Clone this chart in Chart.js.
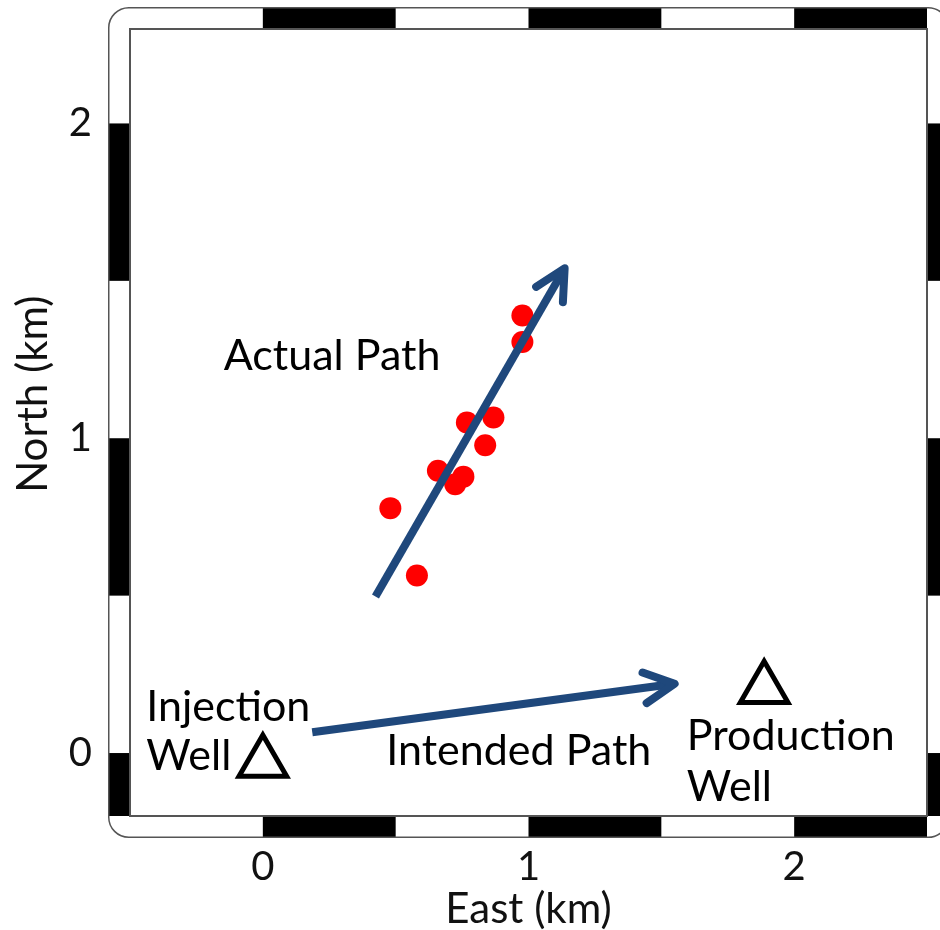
<!DOCTYPE html>
<html>
<head>
<meta charset="utf-8">
<script src="https://cdn.jsdelivr.net/npm/chart.js@4.4.1/dist/chart.umd.min.js"></script>
<style>
html,body{margin:0;padding:0;background:#fff;}
#c{display:block;}
</style>
</head>
<body>
<canvas id="c" width="940" height="930"></canvas>
<script>
// ---- data (km) ----
const eventEast  = [0.977, 0.977, 0.768, 0.868, 0.837, 0.659, 0.755, 0.724, 0.480, 0.580];
const eventNorth = [1.390, 1.306, 1.050, 1.066, 0.978, 0.897, 0.878, 0.854, 0.778, 0.564];
const actualPathEast  = [0.424, 1.136];
const actualPathNorth = [0.497, 1.540];
const intendedPathEast  = [0.186, 1.550];
const intendedPathNorth = [0.066, 0.220];
const wellEast  = [0.000, 1.887];
const wellNorth = [-0.030, 0.204];
const xTicks = [0, 1, 2];
const yTicks = [0, 1, 2];
const xRange = [-0.5, 2.5];
const yRange = [-0.2, 2.3];
const labelTexts = ['Actual Path', 'Injection', 'Well', 'Intended Path', 'Production', 'Well'];
const labelEast  = [-0.147, -0.439, -0.439, 0.465, 1.596, 1.596];
const labelNorth = [1.218, 0.102, -0.053, -0.037, 0.010, -0.151];
const xTitle = 'East (km)';
const yTitle = 'North (km)';

const pts = (xs, ys) => xs.map((v, i) => ({x: v, y: ys[i]}));
const ARROW = '#1F487C';
const FONT = 'Lato';

const framePlugin = {
  id: 'frame',
  afterDraw(chart) {
    const {ctx, chartArea: a, scales: {x, y}} = chart;
    const bw = 22, step = 0.5, r = 20;
    const L = a.left - bw, T = a.top - bw, R = a.right + bw, B = a.bottom + bw;
    ctx.save();
    ctx.beginPath();
    ctx.roundRect(L, T, R - L, B - T, r);
    ctx.rect(a.left, a.top, a.right - a.left, a.bottom - a.top);
    ctx.fillStyle = '#fff';
    ctx.fill('evenodd');
    ctx.fillStyle = '#000';
    for (let k = Math.floor(x.min / step); k < Math.ceil(x.max / step); k++) {
      if (Math.abs(k % 2) !== 0) continue;
      const x0 = x.getPixelForValue(Math.max(k * step, x.min));
      const x1 = x.getPixelForValue(Math.min((k + 1) * step, x.max));
      ctx.fillRect(x0, T, x1 - x0, bw);
      ctx.fillRect(x0, a.bottom, x1 - x0, bw);
    }
    for (let k = Math.floor(y.min / step); k < Math.ceil(y.max / step); k++) {
      if (Math.abs(k % 2) !== 1) continue;
      const y0 = y.getPixelForValue(Math.min((k + 1) * step, y.max));
      const y1 = y.getPixelForValue(Math.max(k * step, y.min));
      ctx.fillRect(L, y0, bw, y1 - y0);
      ctx.fillRect(a.right, y0, bw, y1 - y0);
    }
    ctx.beginPath();
    ctx.roundRect(L + 0.75, T + 0.75, R - L - 1.5, B - T - 1.5, r);
    ctx.strokeStyle = '#555';
    ctx.lineWidth = 1.5;
    ctx.stroke();
    ctx.strokeStyle = '#555';
    ctx.lineWidth = 2;
    ctx.strokeRect(a.left, a.top, a.right - a.left, a.bottom - a.top);
    // y axis title
    ctx.save();
    ctx.translate(33, y.getPixelForValue(1.14));
    ctx.rotate(-Math.PI / 2);
    ctx.font = '42px ' + FONT;
    ctx.fillStyle = '#111';
    ctx.textAlign = 'center';
    ctx.textBaseline = 'middle';
    ctx.fillText(yTitle, 0, 0);
    ctx.restore();
    ctx.restore();
  }
};

const arrowPlugin = {
  id: 'arrowHeads',
  afterDatasetsDraw(chart) {
    const ctx = chart.ctx;
    chart.data.datasets.forEach((ds, i) => {
      if (!ds.arrowHead) return;
      const d = chart.getDatasetMeta(i).data;
      const p1 = d[d.length - 2], p2 = d[d.length - 1];
      const ang = Math.atan2(p2.y - p1.y, p2.x - p1.x);
      const len = 34, h = 27 * Math.PI / 180;
      ctx.save();
      ctx.beginPath();
      ctx.moveTo(p2.x - len * Math.cos(ang - h), p2.y - len * Math.sin(ang - h));
      ctx.lineTo(p2.x, p2.y);
      ctx.lineTo(p2.x - len * Math.cos(ang + h), p2.y - len * Math.sin(ang + h));
      ctx.strokeStyle = ds.borderColor;
      ctx.lineWidth = ds.borderWidth;
      ctx.lineCap = 'round';
      ctx.lineJoin = 'round';
      ctx.stroke();
      ctx.restore();
    });
  }
};

const labelPlugin = {
  id: 'textLabels',
  afterDatasetsDraw(chart) {
    const {ctx, scales: {x, y}} = chart;
    ctx.save();
    ctx.font = '43px ' + FONT;
    ctx.fillStyle = '#000';
    ctx.textAlign = 'left';
    ctx.textBaseline = 'alphabetic';
    labelTexts.forEach((t, i) => {
      ctx.fillText(t, x.getPixelForValue(labelEast[i]), y.getPixelForValue(labelNorth[i]));
    });
    ctx.restore();
  }
};

new Chart(document.getElementById('c'), {
  type: 'scatter',
  data: {
    datasets: [
      {
        label: 'Actual Path', type: 'line', data: pts(actualPathEast, actualPathNorth),
        borderColor: ARROW, borderWidth: 8, pointRadius: 0, borderCapStyle: 'butt',
        fill: false, showLine: true, arrowHead: true, order: 0
      },
      {
        label: 'Intended Path', type: 'line', data: pts(intendedPathEast, intendedPathNorth),
        borderColor: ARROW, borderWidth: 8, pointRadius: 0, borderCapStyle: 'butt',
        fill: false, showLine: true, arrowHead: true, order: 0
      },
      {
        label: 'Events', data: pts(eventEast, eventNorth),
        backgroundColor: '#FF0000', borderWidth: 0, pointRadius: 11, order: 1
      },
      {
        label: 'Wells', data: pts(wellEast, wellNorth),
        pointStyle: 'triangle', pointRadius: 27.5, borderWidth: 5,
        borderColor: '#000', backgroundColor: 'rgba(255,255,255,0)', order: 2
      }
    ]
  },
  options: {
    responsive: false,
    animation: false,
    events: [],
    layout: {autoPadding: false, padding: {left: 0, top: 29, right: 13, bottom: 0}},
    plugins: {legend: {display: false}, tooltip: {enabled: false}},
    scales: {
      x: {
        type: 'linear', min: xRange[0], max: xRange[1],
        grid: {display: false, drawTicks: false}, border: {display: false},
        ticks: {font: {family: FONT, size: 40}, color: '#111', padding: 27, maxRotation: 0, autoSkip: false,
                callback: v => String(v)},
        afterBuildTicks: s => { s.ticks = xTicks.map(v => ({value: v})); },
        afterFit: s => { s.height = 114; s.paddingLeft = 0; s.paddingRight = 0; },
        title: {display: true, text: xTitle, color: '#111',
                font: {family: FONT, size: 42, lineHeight: 1}, padding: {top: 0, bottom: 0}}
      },
      y: {
        type: 'linear', min: yRange[0], max: yRange[1],
        grid: {display: false, drawTicks: false}, border: {display: false},
        ticks: {font: {family: FONT, size: 40}, color: '#111', padding: 38, autoSkip: false,
                callback: v => String(v)},
        afterBuildTicks: s => { s.ticks = yTicks.map(v => ({value: v})); },
        afterFit: s => { s.width = 130; s.paddingTop = 0; s.paddingBottom = 0; }
      }
    }
  },
  plugins: [framePlugin, arrowPlugin, labelPlugin]
});
</script>
</body>
</html>
